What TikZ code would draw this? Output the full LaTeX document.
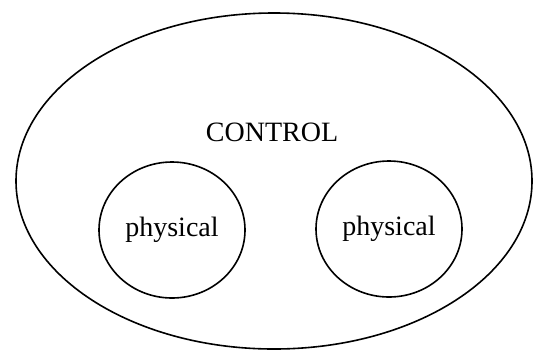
\documentclass[tikz,border=0pt]{standalone}
\usepackage{fontspec}
\setmainfont{Liberation Serif}
\usetikzlibrary{positioning, shapes.geometric}
\begin{document}
\begin{tikzpicture}[x=1pt,y=-1pt,line width=1.6pt,
  label text/.style={font=\fontsize{28}{34}\selectfont},
  part/.style={draw,ellipse,minimum width=146pt,minimum height=136pt,inner sep=0pt,label text}]
\useasboundingbox (0,0) rectangle (534,354);

\coordinate (O) at (274,181);
\coordinate (L) at (172,230);
\coordinate (R) at (389,229);

\draw (O) ellipse[x radius=258, y radius=168];

\node[label text] (control) at (272,132) {CONTROL};
\node[part] (phys1) at (L) {physical};
\node[part] (phys2) at (R) {physical};
\end{tikzpicture}
\end{document}
